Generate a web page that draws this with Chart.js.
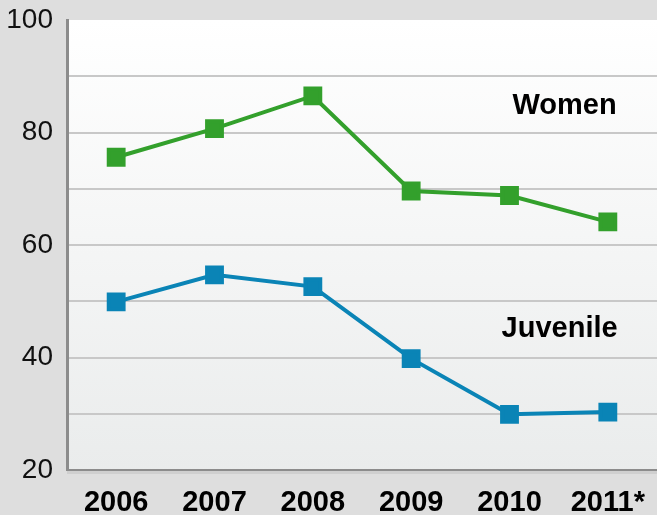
<!DOCTYPE html>
<html>
<head>
<meta charset="utf-8">
<script src="https://cdn.jsdelivr.net/npm/chart.js@4/dist/chart.umd.min.js"></script>
<style>
  html, body { margin: 0; padding: 0; background: #dedede; }
  #wrap { width: 657px; height: 515px; }
</style>
</head>
<body>
<div id="wrap"><canvas id="chart"></canvas></div>
<script>
const years = ['2006', '2007', '2008', '2009', '2010', '2011*'];
const women = [75.6, 80.7, 86.5, 69.6, 68.8, 64.1];
const juvenile = [49.9, 54.7, 52.6, 39.8, 29.9, 30.3];
const yTicks = [20, 40, 60, 80, 100];

const GREEN = '#33a02c';
const BLUE = '#0a84b6';
const FONT = '"Liberation Sans", Arial, sans-serif';

// gradient plot background + series names
const decor = {
  id: 'decor',
  beforeDraw(chart) {
    const { ctx, chartArea: a } = chart;
    const g = ctx.createLinearGradient(0, a.top, 0, a.bottom);
    g.addColorStop(0, '#ffffff');
    g.addColorStop(1, '#eaecec');
    ctx.save();
    ctx.fillStyle = g;
    ctx.fillRect(a.left, a.top, a.right - a.left, a.bottom - a.top);
    ctx.restore();
  },
  afterDraw(chart) {
    const { ctx, chartArea: a, scales } = chart;
    ctx.save();
    // shadow under x axis
    ctx.fillStyle = '#cfcfcf';
    ctx.fillRect(a.left, a.bottom + 1, a.right - a.left, 3);
    ctx.font = 'bold 29px ' + FONT;
    ctx.fillStyle = '#000';
    ctx.textAlign = 'center';
    ctx.textBaseline = 'middle';
    ctx.fillText('Women', scales.x.getPixelForValue(4.56), scales.y.getPixelForValue(84.7));
    ctx.fillText('Juvenile', scales.x.getPixelForValue(4.51), scales.y.getPixelForValue(45.1));
    ctx.restore();
  }
};

new Chart(document.getElementById('chart'), {
  type: 'line',
  data: {
    labels: years,
    datasets: [
      {
        label: 'Women',
        data: women,
        borderColor: GREEN,
        backgroundColor: GREEN,
        borderWidth: 4,
        pointStyle: 'rect',
        pointRadius: 10.5,
        pointHoverRadius: 10.5,
        tension: 0
      },
      {
        label: 'Juvenile',
        data: juvenile,
        borderColor: BLUE,
        backgroundColor: BLUE,
        borderWidth: 4,
        pointStyle: 'rect',
        pointRadius: 10.5,
        pointHoverRadius: 10.5,
        tension: 0
      }
    ]
  },
  options: {
    responsive: true,
    maintainAspectRatio: false,
    animation: false,
    layout: { autoPadding: false, padding: { top: 20, right: 0, left: 0, bottom: 0 } },
    plugins: { legend: { display: false }, tooltip: { enabled: false } },
    scales: {
      x: {
        offset: true,
        grid: { display: false, drawTicks: false },
        border: { color: '#8c8c8c', width: 2 },
        ticks: {
          color: '#000',
          padding: 16,
          maxRotation: 0,
          font: { family: FONT, size: 29, weight: 'bold' }
        },
        afterFit(s) { s.height = 45; s.paddingLeft = 0; s.paddingRight = 0; }
      },
      y: {
        min: 20,
        max: 100,
        ticks: {
          stepSize: 10,
          color: '#111',
          padding: 14,
          font: { family: FONT, size: 28 },
          callback: v => (yTicks.includes(v) ? v : '')
        },
        grid: {
          drawTicks: false,
          lineWidth: 2,
          color: c => (c.tick && (c.tick.value === 100 || c.tick.value === 20)) ? 'rgba(0,0,0,0)' : '#c8c8c8'
        },
        border: { color: '#8c8c8c', width: 3 },
        afterFit(s) { s.width = 67; s.paddingTop = 0; s.paddingBottom = 0; }
      }
    }
  },
  plugins: [decor]
});
</script>
</body>
</html>
